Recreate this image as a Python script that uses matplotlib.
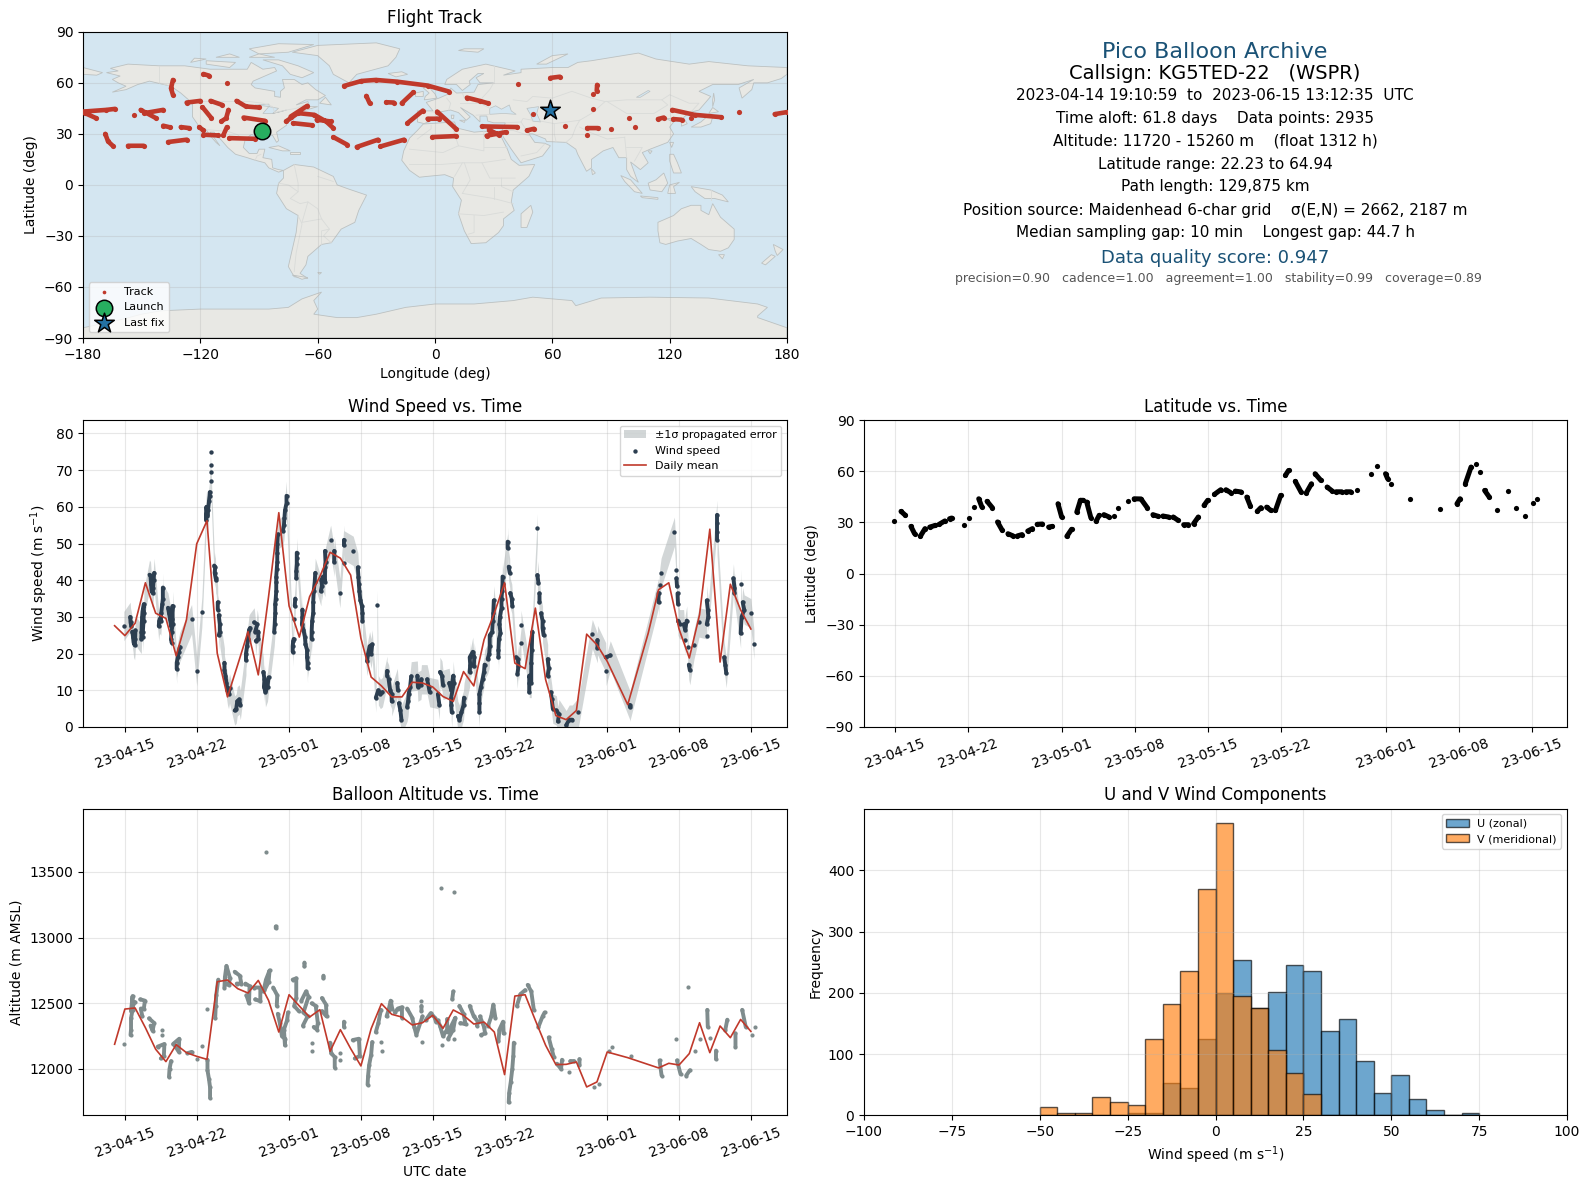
import datetime as dt
import numpy as np
import matplotlib
matplotlib.use("Agg")
import matplotlib.pyplot as plt
import matplotlib.dates as mdates
from matplotlib.patches import Polygon

_ = np.nan
BASE = dt.datetime(2023, 4, 15)

# ---- flight track (lon / lat, NaN breaks a run of overlapping fixes)
track_lon = [-180,-168,-163.6,_,-179,-173.2,_,-168.6,-167.2,-164.8,_,-157,-149,_,-154,_,-150.5,-142.6,_,-148.6,-139,_,-139,-135.3,_,-130,-125.7,_,
             -136.5,-126.9,_,-134,-135,-134,_,-127,-120,_,-118.4,-115.5,_,-106.6,_,-114.8,-108.8,_,-118.9,-114.3,_,-105.6,-106.8,-109.3,_,-120.6,-118.4,_,
             -118.4,-111.2,_,-106.4,-108.3,_,-105.2,-91.9,_,-101.5,-96.7,-90.2,_,-97.9,-87,_,-76.2,-70.1,-61.7,-55.7,-52,_,-73.8,-65.3,_,-72.6,-62.9,_,
             -60.5,-53.3,_,-52,-44.8,_,-40,-29.1,_,-27.9,-15.8,_,-46.5,-37.6,-30.3,-19.5,-3.8,7.1,_,-35.1,-33.4,_,-25,-21.1,_,-17,-11,_,-14.1,-6.2,_,
             -3.8,2.3,_,1.1,10.7,_,-1.3,10.7,_,16.3,22.8,27.1,_,24,42.1,_,26.4,36.1,_,27.6,32.5,_,47,50.6,_,50.1,_,42.3,_,59,63.8,_,66.3,_,80.7,_,
             82.9,82.7,_,80.7,_,77.8,_,77.8,83.2,_,89.9,_,99.1,_,102.5,_,114,117,_,121.8,126.1,_,121.3,132.7,146.4,_,131,_,155.3,_,173.7,180]
track_lat = [43.1,44.1,44.7,_,42.2,39.2,_,30,25.6,23,_,23,23,_,41.2,_,44.1,39.2,_,42.2,44.1,_,34.8,33.8,_,34,33.4,_,
             25.2,26.6,_,61.7,56.8,52.9,_,48.4,49.4,_,65.2,64.2,_,59.7,_,49.4,47,_,45.7,39.2,_,44.1,39.2,37.3,_,34,32,_,
             29.5,29.1,_,34,29.1,_,27.5,27.1,_,49.4,46.1,45.5,_,39.6,37.7,_,37.3,42.2,41.2,37.3,33.4,_,40.2,46.5,_,36.3,35.1,_,
             38.3,37.3,_,28.1,23.6,_,22.3,26.6,_,22.6,26.6,_,58.2,61.1,61.7,60.7,58.4,54.9,_,52.3,48,_,48.6,48.4,_,48,54.5,_,36.3,43.7,_,
             38.9,38.9,_,43.1,33,_,28.1,28.7,_,51.3,49.4,48,_,34.4,34,_,28.9,31,_,32.4,29.5,_,32,33,_,41.6,_,59.2,_,62.9,63.6,_,34.4,_,44.5,_,
             58.8,55.4,_,53.5,_,29.1,_,33.4,33.4,_,32.8,_,39.6,_,34,_,38.7,39.6,_,38.7,38.3,_,44.1,41.2,39.8,_,39.4,_,42.8,_,41.6,42.8]
launch_lon, launch_lat = [-88.7], [31.4]
last_lon, last_lat = [59.0], [44.1]

# ---- wind speed (days after 2023-04-15, m/s)
wind_day = [-0.1,_,0.52,0.55,0.62,_,0.72,0.8,0.85,0.95,1.0,1.03,_,1.6,1.62,1.65,1.68,1.72,1.85,1.85,1.82,1.75,1.72,_,
            2.4,2.5,2.55,2.6,2.7,2.75,2.8,2.85,_,3.3,3.35,3.4,3.5,3.55,3.65,3.7,3.7,_,4.2,4.3,4.4,4.5,4.55,4.65,4.65,4.55,4.5,4.55,_,
            5.05,5.05,5.15,5.25,5.35,_,6.5,_,7.0,_,7.5,_,7.9,7.9,7.95,8.05,8.1,8.2,8.25,8.27,_,8.35,_,8.35,_,8.35,_,8.35,_,
            8.7,8.8,8.75,8.85,8.9,_,9.05,9.05,_,9.15,9.25,9.25,9.15,_,9.7,9.7,9.8,9.9,10,10.1,10.2,_,10.7,10.85,10.95,11.15,11.25,_,
            11.8,11.8,11.9,12,12.1,12.2,_,12.6,12.9,12.7,13,13,12.75,_,13.5,13.6,13.55,13.7,13.9,14,_,
            14.55,14.6,14.65,14.65,14.7,14.75,14.75,14.75,14.8,14.85,14.85,14.85,14.9,_,15.4,15.5,15.55,15.6,15.75,15.75,_,
            16.35,16.35,16.4,16.45,_,16.45,_,16.55,16.6,_,16.7,16.7,16.75,16.75,16.75,_,
            17.3,17.3,17.25,17.4,17.55,17.6,17.75,17.75,17.8,17.8,_,18.2,18.2,18.25,18.35,18.35,18.4,18.5,18.55,_,
            19.1,19.2,19.15,19.3,19.5,19.5,19.55,19.5,_,20.05,_,20.4,20.4,_,20.95,_,21.35,21.35,_,21.35,_,22.25,_,
            22.7,22.75,22.8,22.85,22.95,23.1,23.15,23.15,_,23.6,23.7,23.85,24.1,24.0,_,24.6,_,24.45,24.7,24.9,25.1,_,
            25.55,25.55,_,25.7,25.85,26,26,_,26.55,26.6,_,26.7,26.85,26.95,_,27.5,27.6,27.65,27.8,27.9,_,28.5,28.55,28.85,28.9,_,
            29.45,29.6,29.7,_,30.5,30.65,_,30.7,30.9,31,_,31.6,31.8,32,32.05,31.8,31.8,31.85,_,32.45,32.6,32.8,33,33.05,_,
            33.6,33.65,33.6,33.9,34.05,34,_,34.55,34.55,34.55,34.7,34.85,35,35.05,_,35.35,35.5,35.55,35.55,35.8,35.85,35.9,35.95,_,
            36.4,36.4,36.45,36.6,36.5,36.55,36.7,36.7,36.75,36.8,36.8,_,37.3,37.3,_,37.4,37.5,_,37.55,37.7,37.75,_,
            38.1,38.3,38.35,38.25,_,38.6,_,38.6,_,39.4,39.4,39.4,39.6,39.6,39.65,39.7,_,40.2,_,40.2,40.3,_,40.4,40.4,_,
            40.55,40.7,40.7,40.8,_,41.2,41.3,41.2,_,41.5,41.6,41.7,_,42.05,42.3,42.2,_,43,43.3,43.6,_,44.2,_,45.55,_,46.05,46.05,_,
            46.85,47.3,_,46.9,_,49.2,49.2,_,52,52,_,52.1,_,52.25,_,53.55,_,53.75,_,53.75,53.8,_,53.85,53.9,_,53.9,54.05,_,
            54.45,54.6,54.75,_,54.55,_,54.85,_,54.95,55.05,_,55.95,_,55.45,_,56.7,56.8,56.85,56.7,_,56.7,_,57.7,57.7,57.7,57.7,_,
            58.4,58.5,58.6,_,59.3,59.4,59.4,_,60,_,60.2,60.35,60.1,60,_,61,_,61.3]
wind_speed = [27.5,_,30,28.5,27.5,_,26,24.5,23,22.3,24,26.3,_,24,26,28,30,31.5,33.5,31,29,26,24.5,_,
              41.5,41,39,37,36.5,38,40,42,_,27.5,29,29.5,29,31,33.5,35,38,_,32.5,31,29.5,27.5,29.5,33,28,26,24,23,_,
              15.8,17.5,19,20.5,21.8,_,29.4,_,15.2,_,31.3,_,56.5,58,60,57.5,59,61.5,63,64,_,67,_,69.4,_,71.5,_,75,_,
              44,43.5,42,40.5,40,_,34,32,_,30.5,28,26,25,_,17.5,15.5,14,12,10,9,10.5,_,4.5,5,7,7.5,6,_,
              18.2,20,22,24,26.5,27,_,28.5,28,26,26,24,23.5,_,15,13,11,9.5,11,13.5,_,
              26,28,31,33.5,35,37,39.5,41,43,45,47.5,50,52.5,_,53.5,55,57,59,61,63,_,
              20.5,22,23.5,24,_,29.5,_,33,35,_,40.5,42.5,44.5,46,47.5,_,
              32,30,28,26.5,24.5,22.5,21,19,17.5,16,_,24,26,29,31,34,37,39.5,42,_,
              37,38.5,40,41,39.5,43.5,45,48,_,51,_,48,45,_,36.5,_,51,49.5,_,44.8,_,48,_,
              43.5,41,39,37,34.5,33,31,29,_,18,20,22,22.5,20,_,33.2,_,8,10,9,9.5,_,
              15.3,14,_,13,10,9,7,_,12,10,_,6.5,4.5,2,_,5.5,7,9,11,13.8,_,14,11,11.5,13,_,
              13,11,9.5,_,9,6,_,15,14,11.5,_,12,10,14,12,8,6,4,_,3,2,4,6,8,_,
              15,17,19,20.5,19,16.5,_,4,6.5,9,11,13,15,17,_,18.5,20,22,25,26,29,31,34.5,_,
              19,21,24,25.5,28,30,32.5,35,37,39,41,_,50.5,48.7,_,43.7,42,_,36.5,35,33,_,
              19,18.5,16.5,14.5,_,27.8,_,22.8,_,9.5,12,14,12,17.5,21,26,_,54.1,_,41.4,39.2,_,36.4,34,_,
              31,29,27,25,_,18.5,16,14,_,9.5,7.5,5,_,4.5,3.5,1.5,_,0.5,2,2,_,4,_,25.3,_,23.7,21.5,_,
              19,19.5,_,15.3,_,6,5.5,_,36.5,34,_,38.7,_,42,_,53.2,_,42.8,_,40.5,38.3,_,36.4,33.5,_,29,28,_,
              28,26.5,29,_,23.7,_,21.7,_,17,15.5,_,28.5,_,22.4,_,34.5,32,30,28,_,24.7,_,57.8,55.5,53,51,_,
              19,17,14.7,_,40.5,38,36.5,_,39,_,34,32,30,25.5,_,31,_,22.5]
wind_sigma = 4.0

# ---- daily means of wind (per UTC day)
mean_day = [-1,0,1,2,3,4,5,6,7,8,9,10,11,12,13,14,15,16,17,18,19,20,21,22,23,24,25,26,27,28,29,30,31,32,33,34,35,36,37,38,39,40,41,42,43,44,45,46,47,
            49,51,52,53,54,55,56,57,58,59,60,61]
mean_wind = [27.6,24.9,28.3,39.3,31.0,29.6,19.4,29.2,49.9,56.2,20.1,8.2,17,26,14.2,35.5,58.4,33,24.5,35.5,41,47.6,46,41.4,24.2,13.6,11.2,8.2,8.2,12.2,12,10.9,
             8.3,7,15.1,11.2,23.8,31,39.3,17.4,15.9,32.4,12.9,3.1,2,4.5,25.3,22.4,17.9,
             6.1,25.6,37.4,39.3,26.7,18.8,30.6,53.9,17.7,38.9,31.9,26.7]

alt_mean_day = [-1,0,1,2,3,4,5,6,7,8,9,10,11,12,13,14,15,16,17,18,19,20,21,22,23,24,25,26,27,28,29,30,31,32,33,34,35,36,37,38,39,40,41,42,43,44,45,46,47,
                49,52,53,54,55,56,57,58,59,60,61]
alt_mean = [12188,12456,12464,12314,12150,12056,12185,12124,12096,12073,12664,12677,12611,12578,12674,12522,12281,12565,12479,12395,12451,12134,12299,12155,12023,
            12307,12497,12416,12395,12335,12352,12408,12309,12449,12408,12342,12357,12281,11957,12555,12565,12370,12180,12033,12035,12053,11863,11901,12129,
            12086,12008,12043,12030,12117,12352,12124,12327,12238,12377,12286]

# ---- altitude fixes (day after 2023-04-15, metres; NaN breaks a cluster)
alt_day = [-0.1,_,0.55,0.6,0.6,0.75,0.75,0.6,0.95,0.75,_,1.5,1.95,1.85,1.55,1.7,_,2.35,2.85,2.7,2.5,_,3.6,_,3.6,_,3.2,3.85,3.8,3.5,_,
           4.3,4.35,4.5,_,4.7,5.3,5.25,4.85,_,6.1,6.5,_,7,_,7.5,_,7.97,_,8.05,8.05,8.2,8.3,8.3,_,8.8,8.85,8.9,9.1,_,
           9.7,9.75,9.9,10.25,10.1,9.85,_,10.7,11.2,11.35,10.9,_,11.75,12.15,12.1,11.85,_,12.6,13.2,13.2,12.7,_,13.5,13.75,14.1,14.0,13.6,_,13.75,_,
           14.7,14.7,_,14.45,14.85,14.8,_,14.9,15.1,15.3,15.6,15.6,15.5,15.8,15.9,_,16.35,16.7,16.7,16.5,16.95,_,17.5,17.5,_,
           17.2,17.65,17.9,17.4,17.8,17.35,_,18.2,18.6,18.8,18.7,18.4,_,18.2,_,18.2,_,19.35,19.35,_,19.2,19.6,19.65,19.2,_,
           20,20.1,20.45,20.45,_,21,_,21,_,21.35,21.35,_,22.2,22.8,22.9,22.4,_,23.65,23.7,23.8,24.0,24.1,_,25,_,25.1,_,24.45,24.7,24.95,_,
           25.5,25.7,25.9,26.05,_,26.3,26.6,27,27,_,27.5,28.0,28.2,28.4,29,_,28.98,_,28.9,_,28.9,28.9,_,29.3,29.8,30.2,30.3,_,
           30.5,30.7,31,31.4,31.4,_,30.95,_,30.85,_,32.1,_,31.5,32,32.2,31.75,31.5,_,32,31.9,_,32.1,_,32.6,33,33.2,32.7,_,33.6,34,34.4,34.3,_,
           34.6,35,35.1,34.7,_,35.4,35.7,35.9,36.1,_,36.4,36.5,36.85,36.9,_,37.4,37.45,37.6,37.75,37.85,37.9,_,38.2,38.55,39,_,39.25,39.6,39.85,_,
           40.3,40.7,40.9,_,41.3,41.6,41.8,_,42.1,42.5,42.6,_,43.25,_,43.4,43.75,_,44.3,44.3,_,45.7,_,46.2,_,47.15,_,47.45,_,49.3,_,
           52.1,52.3,_,53.7,_,53.8,54.15,_,54.7,55.05,_,54.85,_,55.6,_,56,_,56.75,56.8,_,57,_,57.6,57.6,_,58.7,58.5,_,59.5,59.5,_,60.15,60.5,_,61.1,_,61.45]
alt_m = [12193,_,12258,12300,12387,12451,12555,12440,12510,12500,_,12530,12520,12460,12460,12400,_,12385,12350,12290,12330,_,12296,_,12255,_,12170,12190,12100,12080,_,
         11940,12000,12060,_,12190,12230,12130,12180,_,12120,12130,_,12072,_,12175,_,12459,_,12070,11990,11920,11860,11780,_,12385,12480,12560,12680,_,
         12620,12700,12785,12690,12640,12650,_,12740,12710,12650,12650,_,12650,12630,12500,12560,_,12620,12620,12515,12530,_,12590,12680,12750,12660,12600,_,13655,_,
         13072,13085,_,12620,12560,12480,_,12420,12350,12250,12230,12180,12300,12370,12430,_,12680,12690,12540,12480,12440,_,12810,12780,_,
         12520,12590,12550,12430,12400,12330,_,12500,12480,12350,12300,12320,_,12195,_,12140,_,12710,12690,_,12540,12490,12400,12440,_,
         12200,12120,12090,12010,_,12120,_,12070,_,12360,12320,_,12220,12230,12100,12080,_,11880,11950,12030,12110,12205,_,12205,_,12135,_,12280,12350,12450,_,
         12400,12450,12520,12460,_,12430,12460,12470,12390,_,12460,12390,12320,12260,12400,_,12206,_,12520,_,12480,12440,_,12370,12425,12390,12360,_,
         12370,12330,12250,12300,12380,_,12180,_,13375,_,13345,_,12230,12300,12390,12320,12280,_,12590,12530,_,12227,_,12480,12420,12340,12350,_,12480,12400,12360,12330,_,
         12400,12320,12270,12260,_,12330,12400,12490,12390,_,12210,12300,12360,12270,_,11745,11820,11900,12000,12100,12200,_,12480,12570,12600,_,12640,12590,12450,_,
         12320,12400,12430,_,12240,12150,12090,_,12040,12000,12070,_,11975,_,12060,12060,_,12075,12030,_,11860,_,11885,_,12140,_,12165,_,12100,_,
         12065,11950,_,12230,_,12065,11960,_,11950,11990,_,12625,_,12135,_,12225,_,12450,12320,_,12232,_,12140,12075,_,12375,12295,_,12270,12170,_,12450,12320,_,12255,_,12320]

# ---- latitude fixes
lat_day = [-0.13,_,0.55,0.97,_,1.5,1.85,_,2.4,2.85,_,3.3,3.85,_,4.2,4.75,_,5.2,5.4,_,6.55,_,7.05,_,7.5,_,8,8.3,_,8.8,9.3,_,9.8,10.25,_,10.8,11.3,_,11.7,12.15,_,12.7,13.15,_,13.6,14.1,_,14.7,15.05,_,
           15.6,15.95,_,16.45,16.9,_,17.4,17.75,18,_,18.35,18.75,_,19.25,19.55,_,20,20.5,_,21,_,21.4,_,22.35,_,22.9,23.55,24.15,_,24.7,25.2,_,25.65,26.2,_,26.65,27.1,_,27.65,28.1,_,28.6,29.05,_,
           29.6,29.95,_,30.6,31.2,_,31.7,32.15,_,32.6,33.15,_,33.7,34.05,_,34.7,35.05,_,35.6,36,_,36.45,36.95,_,37.4,37.7,_,38.35,38.9,_,39.4,39.9,_,40.25,40.8,_,41.4,41.9,_,42.25,42.8,_,43.2,43.65,_,44.3,_,
           45.65,_,46.2,_,47,47.2,_,47.5,_,49.35,_,52.2,_,53.85,54.15,_,54.65,55.2,_,55.7,_,56.05,_,56.5,56.95,_,57.65,_,58.7,_,59.5,_,60.4,_,61.15,_,61.55]
lat_deg = [31.0,_,36.5,34.2,_,27.7,23.4,_,21.9,26.4,_,27.3,28.3,_,28.9,30.9,_,32.2,32.6,_,28.7,_,32.8,_,39.3,_,43.9,39.1,_,42.4,38.7,_,30.3,25.4,_,23.4,22.1,_,22.1,22.9,_,25,26.4,_,28.9,29.1,_,27.3,27.7,_,
           41,33.2,_,21.9,26,_,36.1,43,43,_,42,32.8,_,30.7,34.2,_,34.6,33.2,_,33.8,_,38.7,_,42.4,_,43.9,43.8,38.7,_,34.6,33.6,_,33.8,33.2,_,33.2,31.3,_,28.7,28.7,_,29.3,33.2,_,
           40,43,_,46.5,49.2,_,49.2,47.5,_,48.4,47.9,_,44.9,39.5,_,36.5,38.7,_,39,37.1,_,37.1,45.9,_,57.6,60.5,_,54.1,47.9,_,47.3,52.7,_,58.6,54.7,_,50.8,48.4,_,48,48,_,48,48,_,49.2,_,
           58.6,_,63.1,_,58.6,55.7,_,52.7,_,43.9,_,38.1,_,41,43.9,_,52.7,62.5,_,64.5,_,59.8,_,48.8,44.9,_,37.5,_,48.4,_,38.7,_,33.6,_,41.6,_,43.6]

# ---- wind component histogram (counts per 5 m/s bin)
hist_left = [-50,-45,-40,-35,-30,-25,-20,-15,-10,-5,0,5,10,15,20,25,30,35,40,45,50,55,60,65,70]
u_counts = [0,0,0,0,0,3,3,52,44,125,199,253,176,202,245,236,138,158,88,37,66,27,8,1,3]
v_counts = [13,4,4,29,21,17,125,182,236,370,477,194,176,106,69,35,0,0,0,0,0,0,0,0,0]

# ---- base map (lon, lat outlines)
north_america = [(-168,66),(-162,67),(-166,68.5),(-157,71),(-141,70),(-128,70),(-115,68),(-108,68),(-96,68),(-94,72),(-88,68),(-82,69),(-81,67),(-87,64),(-93,61),(-94,59),(-92,57),(-82,55),(-82,52),(-79,51.5),(-79,55),(-77,57),(-78,62),(-72,62),(-68,59),(-65,60),(-61,56),(-56,52.5),(-60,50),(-66,50),(-71,47),(-65,49),(-64,46),(-60,46),(-66,44),(-70,43),(-71,41),(-74,40),(-76,37),(-76,35),(-81,31),(-80,26),(-81,25),(-83,29),(-85,30),(-90,29),(-94,29.5),(-97,27),(-98,22),(-95,18.5),(-91,18.5),(-90,21),(-87,21),(-88,16),(-83.5,15),(-83,10),(-80,9),(-77.5,8.5),(-80,7.5),(-85,10),(-87,13),(-92,14.5),(-96,16),(-102,18),(-106,22),(-109,26),(-113,31),(-115,31),(-110,23),(-112,25),(-115,29),(-117,32.5),(-121,35),(-124,40),(-124,48),(-130,54),(-135,58),(-146,61),(-152,59),(-158,56),(-165,54.5),(-158,58),(-162,60),(-165,62),(-161,64)]
south_america = [(-77.5,8.5),(-72,12),(-62,10.5),(-52,5),(-50,0),(-44,-2.5),(-35,-6),(-39,-15),(-41,-22),(-48,-26),(-53,-34),(-58,-35),(-62,-39),(-65,-42),(-66,-47),(-69,-52),(-65,-55),(-72,-54),(-75,-48),(-73,-38),(-71,-28),(-70,-18),(-76,-14),(-81,-5),(-80,1),(-77.5,4)]
africa = [(-6,35.8),(10,37),(11,33.5),(20,31),(25,31.5),(32,31),(34,28),(37,21),(39,15),(43,11.5),(51,12),(48,5),(40,-3),(39,-10),(40.5,-15),(35,-20),(35,-24),(32.5,-28),(26,-34),(18.5,-34.5),(15,-27),(12,-17),(13.5,-9),(9,-1),(9.5,4),(5,6),(-4,5),(-8,4.5),(-13,8.5),(-17,14.5),(-16,20),(-13,27.5),(-9,32)]
eurasia = [(-9,37),(-9,43.5),(-1,43.5),(-4.5,48.5),(2,51),(8,54),(8,57),(11,54),(20,54.5),(22,59),(30,60),(23,60),(21,63),(25,65.5),(22,65.5),(17.5,61),(18,59),(14,55.5),(11,59),(5,59),(6,62),(14,68),(26,71),(41,67),(35,64.5),(44,66),(44,68),(60,69),(68,69),(73,72),(80,73),(104,77.5),(113,74),(130,71),(140,72.5),(160,70),(180,69),(180,65),(177,62.5),(170,60),(163,60),(162,56),(157,51),(155.5,57),(163,62),(155,59),(142,59),(135,55),(141,52),(135,44),(130,42.5),(127,39.5),(129,36),(126,34.5),(126,37.5),(121,39),(118,39),(122,37),(120,34),(122,30),(119,25),(110,21),(106,19),(109,13),(105,9),(100,13.5),(103,4),(104,1.5),(100,5),(98,9),(98,16),(94,16),(91,22),(86,20),(80,15),(80,10),(77.5,8),(73,18),(72,21),(67,25),(57,25.5),(56.5,27),(50,30),(48,30),(51,25),(56,24.5),(59,23),(55,17),(44,13),(39,21),(35,28),(34,31),(36,36.5),(30,36.5),(27,37.5),(26.5,40.5),(23,40.5),(23,37),(19.5,41),(13,45.5),(18,40),(16,38),(12,42.5),(8,44),(3,43),(0,39),(-5.5,36)]
chukotka = [(-180,69),(-170,66),(-173,64.5),(-180,65)]
greenland = [(-73,78),(-60,76),(-54,70),(-52,65),(-44,60),(-40,65),(-24,70),(-20,75),(-18,80),(-30,83.5),(-60,82)]
australia = [(114,-22),(122,-18),(126,-14),(131,-12),(136,-12),(136,-15),(140,-17.5),(142,-11),(146,-19),(153,-26),(153,-32),(150,-37),(146,-39),(140,-38),(136,-35),(131,-31.5),(124,-33),(118,-35),(115,-34),(114,-27)]
antarctica = [(-180,-84),(-160,-79),(-150,-76),(-140,-74),(-120,-73),(-100,-73),(-85,-73),(-75,-72),(-68,-67),(-58,-63),(-62,-68),(-60,-73),(-62,-76),(-50,-78),(-40,-78),(-30,-76),(-15,-72),(0,-70),(20,-70),(40,-68),(50,-66),(70,-68),(72,-71),(85,-66.5),(110,-66),(140,-66.5),(165,-70),(170,-72),(165,-77),(165,-78),(180,-84),(180,-90),(-180,-90)]
islands = [
    [(-62,66),(-68,63),(-74,65),(-78,70),(-88,73.5),(-80,73.5),(-70,70)],
    [(-117,71),(-105,69),(-102,72),(-117,73)], [(-90,77),(-75,78),(-62,82.5),(-80,83),(-95,80)],
    [(-125,72),(-117,74),(-123,74.5)], [(-95,75),(-82,75),(-90,77)], [(-112,75),(-100,75),(-105,77)],
    [(-59,48),(-53,47),(-56,51.5)], [(-5.5,50),(1,51),(0,53.5),(-2,56),(-3,58.5),(-6,57),(-3,54),(-5,52)],
    [(-10,52),(-6,52),(-6,55),(-10,54)], [(-24,65.5),(-20,63.5),(-14,65),(-17,66.5)],
    [(12,79),(22,78),(25,80),(15,80)], [(52,71),(57,71),(68,77),(60,76)],
    [(131,34),(136,34),(141,36),(142,40),(140,41),(136,37)], [(140,42),(145,43),(142,45.5)],
    [(142,46),(143,50),(142.5,54),(142,50)], [(120,18),(122,18),(124,13),(126,7),(122,7),(120,14)],
    [(109,1),(113,3),(117,7),(119,1),(116,-4),(110,-3)], [(95,5.5),(100,3),(106,-5),(102,-4),(97,2)],
    [(105,-6.5),(114,-7.5),(114,-8.5),(106,-7.5)], [(119,-5),(120,0),(125,1.5),(122,-1),(123,-5)],
    [(131,-1),(141,-3),(147,-6),(150,-10),(143,-8),(138,-8),(133,-4)], [(145,-41),(148,-41),(147,-43.5)],
    [(173,-35),(178,-38),(175,-41.5),(174,-39)], [(172,-41),(174,-42),(169,-47),(167,-46)],
    [(49,-12),(50,-16),(47,-25),(44,-25),(44,-17)], [(80,9.5),(82,7),(80.5,6)],
    [(-85,22),(-80,23),(-74,20),(-78,20)], [(-74,19.5),(-69,19.5),(-69,18),(-74,18)],
    [(12.5,38),(15.5,38),(15,36.7)], [(8.3,41),(9.7,41),(9.5,39),(8.5,39)], [(120,25),(122,25),(121,22)],
    [(109,20),(111,20),(110,18.3)], [(-73,-53),(-65,-54.5),(-68,-55.5)], [(-60,-51.5),(-58,-51.5),(-59,-52.5)],
]
inland_waters = [
    [(28,41.5),(28,45),(31,46.5),(34,44.5),(38,47),(39,43.5),(41.5,41.5),(35,42)],
    [(47,45),(53,46),(52,42),(54,37),(50,37.5),(49,41)],
    [(-92,47),(-85,47.5),(-84.5,46),(-88,46.5)], [(-88,42),(-85,46),(-80,45),(-83,42)],
    [(-83,42),(-76,44),(-79,43)], [(103,51.5),(109,55.5),(110,55),(105,51.5)], [(59,46),(61,46),(61,44),(59,44)],
]
borders = [
    [(-141,70),(-141,60)], [(-141,60),(-135,58)], [(-124,49),(-95,49),(-88,48),(-83,46),(-82,42.5),(-76,44),(-71,45),(-67,47),(-67,45)],
    [(-117,32.5),(-106,31.5),(-101,29.5),(-97,26)], [(-92,14.5),(-91,17),(-89,18)], [(-72,12),(-70,1),(-70,-4),(-74,-8),(-69,-11),(-65,-10),(-60,-14),(-58,-20),(-54,-26),(-57,-30),(-53,-34)],
    [(-70,-18),(-68,-23),(-71,-40),(-72,-51)], [(-60,5),(-52,2)], [(-80,1),(-75,0),(-70,-4)], [(-65,-10),(-68,-22),(-58,-20)], [(-58,-35),(-58,-27),(-54,-26)],
    [(-9,27),(-2,33),(-2,35)], [(-13,21),(4,19),(12,23),(25,20),(25,31.5)], [(12,23),(10,30),(8,37)], [(25,22),(37,22)], [(14,13),(24,13),(36,15)], [(-13,12),(3,12),(14,13),(10,5)],
    [(24,13),(28,4),(34,4),(41,4)], [(14,-5),(30,-8),(40,-11)], [(12,-17),(25,-18),(35,-16)], [(20,-18),(20,-28),(17,-29)], [(30,-1),(30,-8)], [(34,4),(34,-1),(40,-4)], [(15,13),(18,3),(14,-5)],
    [(30,60),(28,56),(24,51),(23,48),(28,45)], [(6,51),(8,48),(7,44)], [(-2,43),(3,42.5)], [(14,54),(15,51),(24,50)], [(13,48),(17,48),(23,48)], [(21,41),(28,41.5)],
    [(30,70),(30,62),(30,60)], [(40,50),(47,49),(50,52),(60,51),(70,55),(80,51),(87,49),(98,50),(107,50),(116,50),(120,53),(130,48),(135,48),(131,43)],
    [(87,49),(80,42),(74,38),(61,36),(54,37.5)], [(36,36.5),(44,37),(48,30)], [(44,37),(45,39),(50,38)], [(61,36),(61,30),(62,25)], [(74,38),(72,34),(70,28),(67,25)], [(74,34),(79,31),(88,27),(97,28)],
    [(97,28),(98,16)], [(98,22),(106,22),(102,14)], [(88,49),(98,42),(112,42),(119,47),(116,50)],
    [(36,32),(40,32),(48,29)], [(44,17),(52,19),(56,24)],
    [(141,-3),(141,-9)],
]

# ---- styling constants
OCEAN, LAND = "#d4e6f1", "#e8e8e4"
RED, DARK, GREY = "#c0392b", "#2c3e50", "#7f8c8d"
W, H = 1590, 1189


def days(values):
    return np.array([mdates.date2num(BASE) + v for v in np.asarray(values, dtype=float)])


def panel(left, right, top, bottom):
    ax = fig.add_axes([left / W, 1 - bottom / H, (right - left) / W, (bottom - top) / H])
    ax.grid(True, alpha=0.3)
    return ax


def date_axis(ax, lo, hi):
    ax.set_xlim(days([lo])[0], days([hi])[0])
    ax.xaxis.set_major_locator(mdates.DayLocator(bymonthday=[1, 8, 15, 22]))
    ax.xaxis.set_major_formatter(mdates.DateFormatter("%y-%m-%d"))
    ax.tick_params(axis="x", labelrotation=20)


fig = plt.figure(figsize=(W / 100, H / 100), dpi=100)
LX = (83.0, 787)
RX = (864, 1567)
R1, R2, R3 = (31.8, 338.0), (420.2, 727), (808.7, 1115.2)

# Flight track
ax = panel(*LX, *R1)
ax.set_facecolor(OCEAN)
for poly in [north_america, south_america, africa, eurasia, chukotka, greenland, australia, antarctica, *islands]:
    ax.add_patch(Polygon(poly, closed=True, facecolor=LAND, edgecolor="#bcc1c1", lw=0.6, zorder=1))
for poly in inland_waters:
    ax.add_patch(Polygon(poly, closed=True, facecolor=OCEAN, edgecolor="#bcc1c1", lw=0.5, zorder=1.1))
for line in borders:
    bx, by = zip(*line)
    ax.plot(bx, by, color="#d9dbd9", lw=0.6, zorder=1.2)
ax.plot(track_lon, track_lat, color=RED, lw=3.3, solid_capstyle="round", zorder=3)
ax.scatter(track_lon, track_lat, s=14, color=RED, linewidths=0, zorder=3, label="Track")
ax.scatter(launch_lon, launch_lat, s=140, color="#27ae60", edgecolor="black", lw=1.1, zorder=5, label="Launch")
ax.scatter(last_lon, last_lat, s=220, marker="*", color="#2471a3", edgecolor="black", lw=1.1, zorder=5, label="Last fix")
ax.set_xlim(-180, 180)
ax.set_ylim(-90, 90)
ax.set_xticks(np.arange(-180, 181, 60))
ax.set_yticks(np.arange(-90, 91, 30))
ax.set_xlabel("Longitude (deg)")
ax.set_ylabel("Latitude (deg)")
ax.set_title("Flight Track", fontsize=12)
leg = ax.legend(loc="lower left", fontsize=8)
leg.legend_handles[0].set_sizes([7])

# Summary text
summary = [
    ("Pico Balloon Archive", 16, "#1a5276", 51.5, 1215),
    ("Callsign: KG5TED-22   (WSPR)", 14, "black", 73.8, 1215),
    ("2023-04-14 19:10:59  to  2023-06-15 13:12:35  UTC", 11, "black", 95, 1215),
    ("Time aloft: 61.8 days    Data points: 2935", 11, "black", 118, 1215),
    ("Altitude: 11720 - 15260 m    (float 1312 h)", 11, "black", 141, 1215),
    ("Latitude range: 22.23 to 64.94", 11, "black", 164, 1215),
    ("Path length: 129,875 km", 11, "black", 187, 1215),
    ("Position source: Maidenhead 6-char grid    σ(E,N) = 2662, 2187 m", 11, "black", 210, 1215),
    ("Median sampling gap: 10 min    Longest gap: 44.7 h", 11, "black", 233, 1215),
    ("Data quality score: 0.947", 13, "#1a5276", 258, 1215),
    ("precision=0.90   cadence=1.00   agreement=1.00   stability=0.99   coverage=0.89", 9, "#555555", 278.5, 1218),
]
for text, size, color, y, x in summary:
    fig.text(x / W, 1 - y / H, text, fontsize=size, color=color, ha="center", va="center")

# Wind speed
ax = panel(*LX, *R2)
wd = np.asarray(wind_day, dtype=float)
ws = np.asarray(wind_speed, dtype=float)
ok = ~np.isnan(wd)
order = np.argsort(wd[ok])
td = days(wd[ok][order])
sd = ws[ok][order]
ax.fill_between(td, sd - wind_sigma, sd + wind_sigma, color=GREY, alpha=0.35, lw=0, label="±1σ propagated error")
ax.plot(days(wd), ws, color=DARK, lw=2.8, solid_capstyle="round", zorder=2.1)
ax.scatter(days(wd), ws, s=10, color=DARK, linewidths=0, zorder=2.2, label="Wind speed")
ax.plot(days(mean_day), mean_wind, color=RED, lw=1.2, zorder=3, label="Daily mean")
date_axis(ax, -4.08, 64.52)
ax.set_ylim(0, 83.6)
ax.set_yticks(np.arange(0, 81, 10))
ax.set_ylabel("Wind speed (m s$^{-1}$)")
ax.set_title("Wind Speed vs. Time", fontsize=12)
ax.legend(loc="upper right", fontsize=8)

# Latitude
ax = panel(*RX, *R2)
ax.plot(days(lat_day), lat_deg, color="black", lw=3.6, solid_capstyle="round", zorder=3)
ax.scatter(days(lat_day), lat_deg, s=14, color="black", linewidths=0, zorder=3)
date_axis(ax, -3.0, 64.4)
ax.set_ylim(-90, 90)
ax.set_yticks(np.arange(-90, 91, 30))
ax.set_ylabel("Latitude (deg)")
ax.set_title("Latitude vs. Time", fontsize=12)

# Altitude
ax = panel(*LX, *R3)
ax.plot(days(alt_day), alt_m, color=GREY, lw=2.8, solid_capstyle="round", solid_joinstyle="round", zorder=2.1)
ax.scatter(days(alt_day), alt_m, s=9, color=GREY, linewidths=0, zorder=2.2)
ax.plot(days(alt_mean_day), alt_mean, color=RED, lw=1.2, zorder=3)
date_axis(ax, -4.08, 64.52)
ax.set_ylim(11648, 13981)
ax.set_yticks([12000, 12500, 13000, 13500])
ax.set_xlabel("UTC date")
ax.set_ylabel("Altitude (m AMSL)")
ax.set_title("Balloon Altitude vs. Time", fontsize=12)

# Histogram
ax = panel(*RX, *R3)
ax.bar(hist_left, u_counts, width=5, align="edge", color="#1f77b4", alpha=0.65, edgecolor="black", lw=1.0, label="U (zonal)")
ax.bar(hist_left, v_counts, width=5, align="edge", color="#ff7f0e", alpha=0.65, edgecolor="black", lw=1.0, label="V (meridional)")
ax.set_xlim(-100, 100)
ax.set_ylim(0, 500.9)
ax.set_xticks(np.arange(-100, 101, 25))
ax.set_yticks(np.arange(0, 401, 100))
ax.set_xlabel("Wind speed (m s$^{-1}$)")
ax.set_ylabel("Frequency")
ax.set_title("U and V Wind Components", fontsize=12)
ax.legend(loc="upper right", fontsize=8)

fig.savefig("out.png", dpi=100)
